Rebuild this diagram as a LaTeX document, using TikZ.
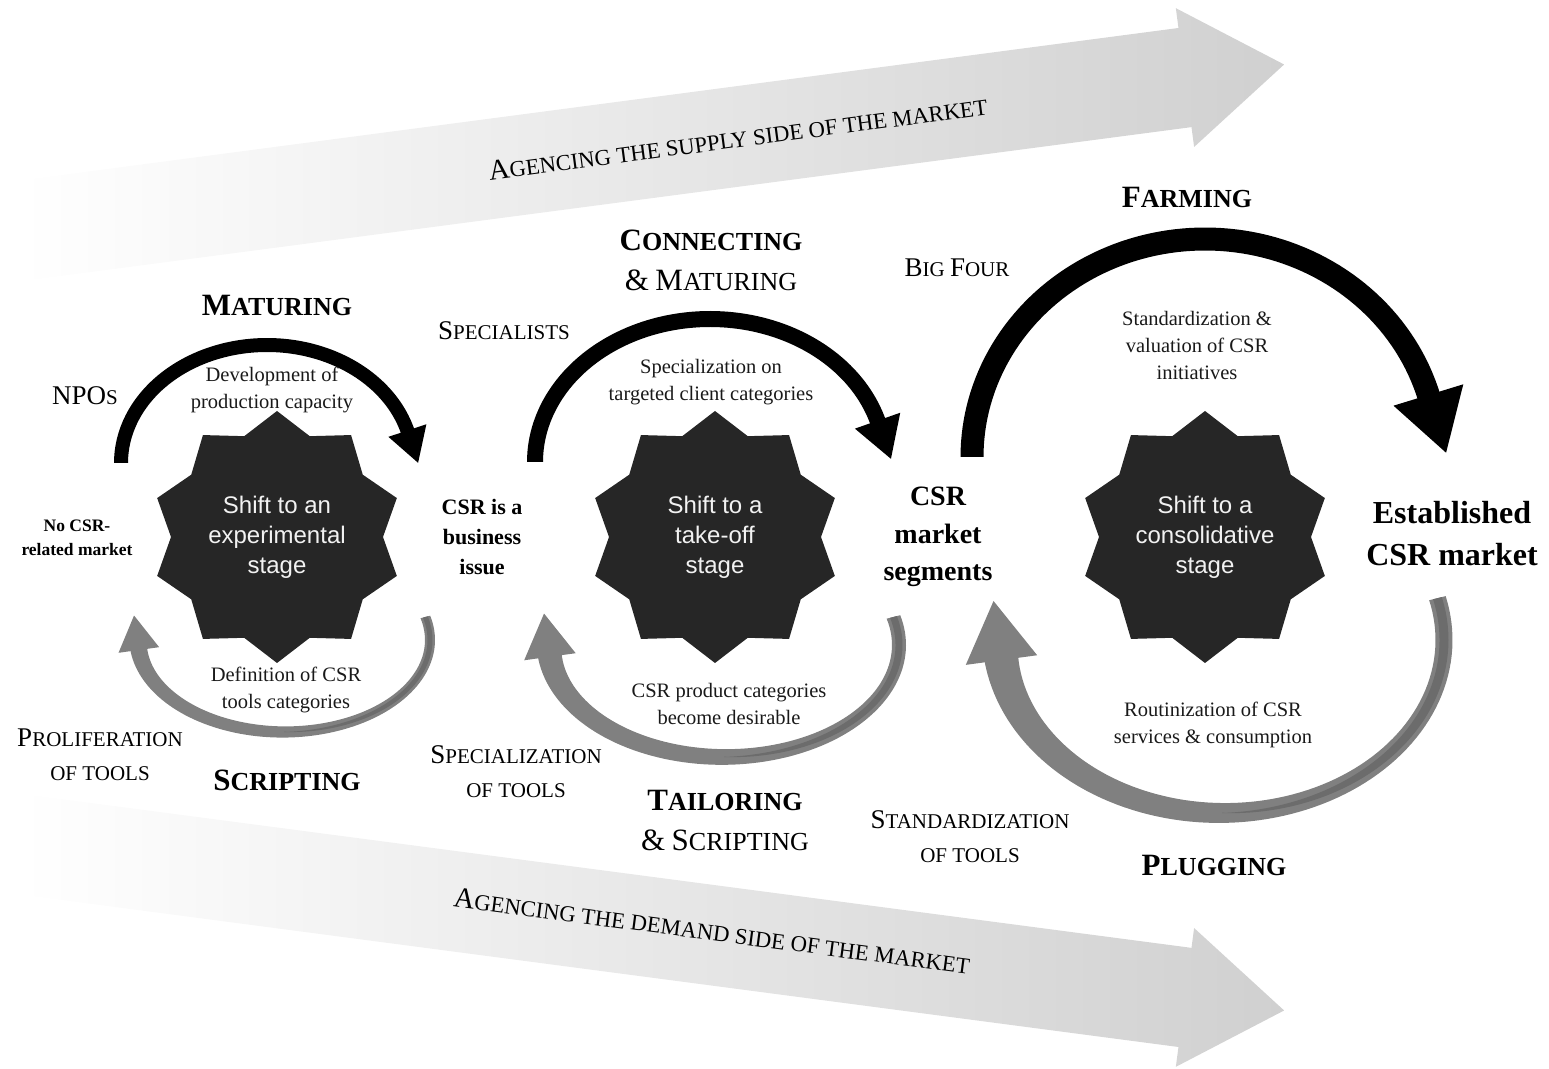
\documentclass[tikz,border=0pt]{standalone}
\usepackage{fontspec}
\setmainfont{Liberation Serif}
\newfontfamily\starfont{Liberation Sans}

\definecolor{stardark}{HTML}{262626}
\definecolor{starwhite}{HTML}{F2F2F2}
\definecolor{bandgray}{HTML}{808080}
\definecolor{banddark}{HTML}{6C6C6C}
\definecolor{flowgray}{HTML}{D0D0D0}

% small caps by hand: first part big, rest in the node font
\newcommand{\scbig}{}
\newcommand{\scap}[2]{{\scbig #1}#2}

% elliptic band with an arrow head at its end
% cx, cy, x radius, y radius, start angle, end angle, start width, end width, head width
\newcommand{\bandarrow}[9]{%
  \fill plot[domain=#5:#6, samples=90, variable=\ang]
      ({#1+(#3+0.5*(#7+(#8-#7)*((\ang-(#5))/((#6)-(#5)))^3))*cos(\ang)},
       {#2+(#4+0.5*(#7+(#8-#7)*((\ang-(#5))/((#6)-(#5)))^3))*sin(\ang)})
    -- plot[domain=#6:#5, samples=90, variable=\ang]
      ({#1+(#3-0.5*(#7+(#8-#7)*((\ang-(#5))/((#6)-(#5)))^3))*cos(\ang)},
       {#2+(#4-0.5*(#7+(#8-#7)*((\ang-(#5))/((#6)-(#5)))^3))*sin(\ang)})
    -- cycle;
  \pgfmathsetmacro\hbx{#1+#3*cos(#6)}
  \pgfmathsetmacro\hby{#2+#4*sin(#6)}
  \pgfmathsetmacro\htx{#3*sin(#6)}
  \pgfmathsetmacro\hty{-#4*cos(#6)}
  \pgfmathsetmacro\htn{veclen(\htx,\hty)}
  \pgfmathsetmacro\hux{\htx/\htn}
  \pgfmathsetmacro\huy{\hty/\htn}
  \fill ({\hbx-2*(\hux)+0.5*#9*(\huy)},{\hby-2*(\huy)-0.5*#9*(\hux)})
     -- ({\hbx+0.8*#9*(\hux)},{\hby+0.8*#9*(\huy)})
     -- ({\hbx-2*(\hux)-0.5*#9*(\huy)},{\hby-2*(\huy)+0.5*#9*(\hux)}) -- cycle;
}

\tikzset{
  flow/.style={left color=white, right color=flowgray},
  stage/.style={text=starwhite, align=center, font=\starfont\fontsize{24}{30}\selectfont},
  capbold/.style={align=center,
    font=\bfseries\fontsize{26}{40}\selectfont\def\scbig{\fontsize{31}{40}\selectfont}},
  capplain/.style={align=center,
    font=\fontsize{21}{34}\selectfont\def\scbig{\fontsize{27}{34}\selectfont}},
  capflow/.style={font=\fontsize{22.7}{30}\selectfont\def\scbig{\fontsize{29}{30}\selectfont}},
  note/.style={align=center, text=black!90, font=\fontsize{20.5}{27}\selectfont},
  state/.style={align=center, font=\bfseries}
}

\begin{document}
\begin{tikzpicture}[x=1pt, y=1pt]
\useasboundingbox (0,0) rectangle (1549,1068);

% supply and demand flows
\begin{scope}[shift={(27,838)}, rotate=7.5]
  \shade[flow] (0,-50) -- (1168,-50) -- (1168,-70) -- (1268,0) -- (1168,70) -- (1168,50) -- (0,50) -- cycle;
\end{scope}
\begin{scope}[shift={(27,223)}, rotate=-7.5]
  \shade[flow] (0,-50) -- (1168,-50) -- (1168,-70) -- (1268,0) -- (1168,70) -- (1168,50) -- (0,50) -- cycle;
\end{scope}
\node[capflow, rotate=7.5] (supplytxt) at (738,930) {\scap{A}{GENCING THE SUPPLY SIDE OF THE MARKET}};
\node[capflow, rotate=-7.5] (demandtxt) at (712,137) {\scap{A}{GENCING THE DEMAND SIDE OF THE MARKET}};

% black arcs (top)
\begin{scope}[fill=black]
  \bandarrow{267}{605}{146}{118}{180}{15}{14}{14}{40}
  \bandarrow{710}{606}{175}{143}{180}{16}{16}{16}{48}
  \bandarrow{1205}{611}{233}{218}{180}{16}{23}{23}{73}
\end{scope}

% grey arcs (bottom)
\begin{scope}[fill=bandgray]
  \bandarrow{284}{428}{146}{92}{14.5}{-175}{10}{17}{41}
  \bandarrow{724}{423}{175}{112}{14.5}{-175}{14}{24}{52}
  \bandarrow{1222}{428}{222}{173}{14}{-174}{17}{34}{72}
\end{scope}
\begin{scope}[fill=banddark]
  \bandarrow{284}{428}{146}{92}{14.5}{-90}{5}{0}{0}
  \bandarrow{724}{423}{175}{112}{14.5}{-90}{7}{0}{0}
  \bandarrow{1222}{428}{222}{173}{14}{-90}{9}{0}{0}
\end{scope}

% stages: ten pointed stars
\foreach \cx in {277,715,1205}
  \fill[stardark, shift={(\cx,531)}] (90:126)
    \foreach \k in {1,...,19} { -- ({90+18*\k}:{116+10*cos(180*\k)}) } -- cycle;
\node[stage] (star1) at (277,531) {Shift to an\\experimental\\stage};
\node[stage] (star2) at (715,531) {Shift to a\\take-off\\stage};
\node[stage] (star3) at (1205,531) {Shift to a\\consolidative\\stage};

% states of the market
\node[state, font=\bfseries\fontsize{17.5}{24}\selectfont] (nomarket) at (77,530) {No CSR-\\related market};
\node[state, font=\bfseries\fontsize{22}{30}\selectfont] (bizissue) at (482,531) {CSR is a\\business\\issue};
\node[state, font=\bfseries\fontsize{28}{37.5}\selectfont] (segments) at (938,531) {CSR\\market\\segments};
\node[state, font=\bfseries\fontsize{32}{42}\selectfont] (established) at (1452,534) {Established\\CSR market};

% top labels
\node[capbold] (maturing) at (277,763) {\scap{M}{ATURING}};
\node[capbold] (connecting) at (711,808) {\scap{C}{ONNECTING}\\{\mdseries{\scbig\&} \scap{M}{ATURING}}};
\node[capbold] (farming) at (1187,871) {\scap{F}{ARMING}};
\node[capplain] (npos) at (85,672) {\scap{NPO}{S}};
\node[capplain] (specialists) at (504,737) {\scap{S}{PECIALISTS}};
\node[capplain] (bigfour) at (957,800) {\scap{B}{IG} \scap{F}{OUR}};
\node[note] (devcap) at (272,678) {Development of\\production capacity};
\node[note] (specclient) at (711,686) {Specialization on\\targeted client categories};
\node[note] (stdval) at (1197,723) {Standardization \&\\valuation of CSR\\initiatives};

% bottom labels
\node[note] (defcat) at (286,378) {Definition of CSR\\tools categories};
\node[note] (desirable) at (729,364) {CSR product categories\\become desirable};
\node[note] (routine) at (1213,343) {Routinization of CSR\\services \& consumption};
\node[capplain] (prolif) at (100,313) {\scap{P}{ROLIFERATION}\\OF TOOLS};
\node[capplain] (spectools) at (516,296) {\scap{S}{PECIALIZATION}\\OF TOOLS};
\node[capplain] (stdtools) at (970,231) {\scap{S}{TANDARDIZATION}\\OF TOOLS};
\node[capbold] (scripting) at (287,288) {\scap{S}{CRIPTING}};
\node[capbold] (tailoring) at (725,247) {\scap{T}{AILORING}\\{\mdseries{\scbig\&} \scap{S}{CRIPTING}}};
\node[capbold] (plugging) at (1214,203) {\scap{P}{LUGGING}};

\end{tikzpicture}
\end{document}
